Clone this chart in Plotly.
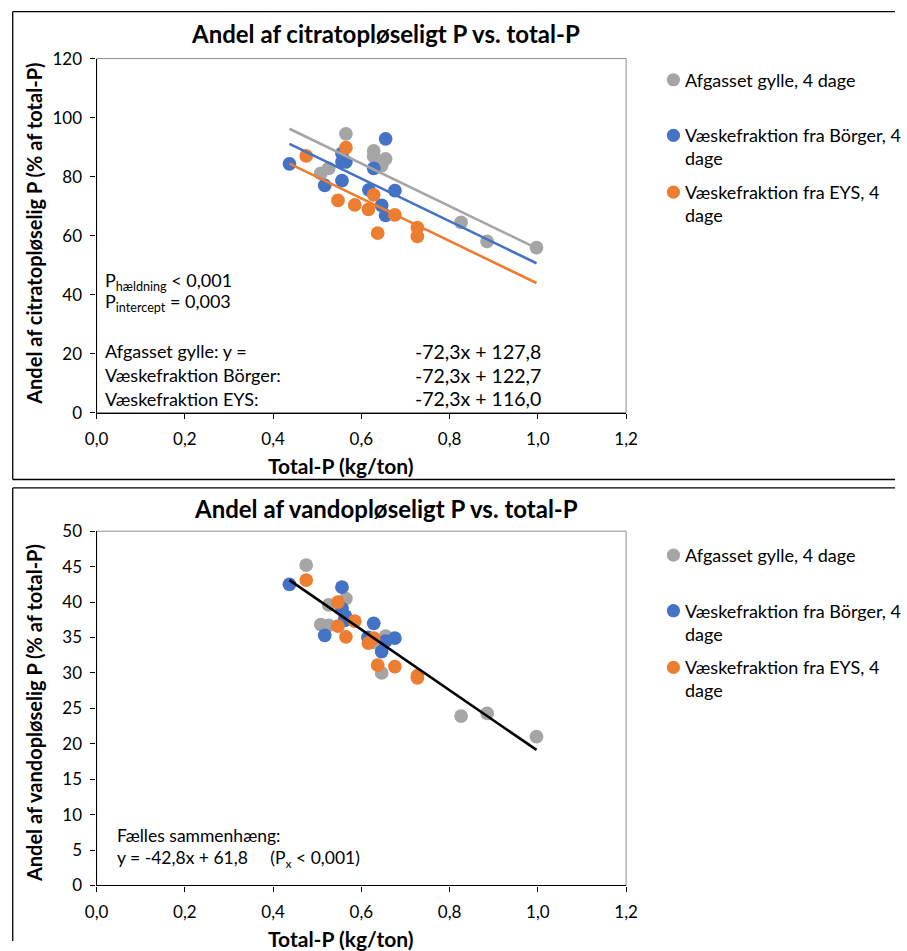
import plotly.graph_objects as go

# Figure size; the page adds an 8 px body margin and the view is fitted back to 907 x 951,
# so layout positions below are given in final view pixels and converted with SX/SY.
W, H, OFF = 907, 951, 8
SX, SY = W / (W + 2 * OFF), H / (H + 2 * OFF)
FONT = "Lato"

# ---- series: citrate-soluble P (top chart) ----
cit_gylle_x = [0.508, 0.526, 0.565, 0.628, 0.628, 0.646, 0.655, 0.826, 0.885, 0.997]
cit_gylle_y = [81.1, 82.8, 94.5, 88.7, 86.8, 83.7, 86.0, 64.5, 58.0, 55.9]
cit_borger_x = [0.437, 0.517, 0.556, 0.556, 0.565, 0.556, 0.617, 0.628, 0.646, 0.655, 0.655, 0.676]
cit_borger_y = [84.3, 77.0, 87.9, 85.0, 85.0, 78.6, 75.5, 82.8, 70.2, 66.8, 92.8, 75.2]
cit_eys_x = [0.475, 0.547, 0.565, 0.585, 0.616, 0.628, 0.637, 0.676, 0.727, 0.727]
cit_eys_y = [87.0, 71.9, 89.8, 70.4, 68.9, 73.8, 60.8, 67.0, 62.7, 59.7]
cit_slope = -72.3
cit_intercepts = [127.8, 122.7, 116.0]

# ---- series: water-soluble P (bottom chart) ----
van_gylle_x = [0.475, 0.508, 0.526, 0.526, 0.565, 0.628, 0.646, 0.655, 0.826, 0.885, 0.997]
van_gylle_y = [45.2, 36.8, 39.6, 36.7, 40.5, 34.3, 30.0, 35.2, 23.9, 24.3, 21.0]
van_borger_x = [0.437, 0.517, 0.556, 0.556, 0.564, 0.562, 0.615, 0.628, 0.646, 0.655, 0.676]
van_borger_y = [42.5, 35.3, 42.1, 39.1, 38.0, 37.4, 35.0, 37.0, 33.0, 34.5, 34.9]
van_eys_x = [0.475, 0.547, 0.547, 0.565, 0.585, 0.616, 0.628, 0.637, 0.676, 0.727, 0.727]
van_eys_y = [43.1, 40.0, 36.6, 35.1, 37.3, 34.2, 34.9, 31.1, 30.9, 29.6, 29.3]
van_slope = -42.8
van_intercept = 61.8

series_names = ["Afgasset gylle, 4 dage", "Væskefraktion fra Börger, 4 dage", "Væskefraktion fra EYS, 4 dage"]
legend_lines = [["Afgasset gylle, 4 dage"], ["Væskefraktion fra Börger, 4", "dage"], ["Væskefraktion fra EYS, 4", "dage"]]
colors = ["#A5A5A5", "#4472C4", "#ED7D31"]

x_ticks = [0.0, 0.2, 0.4, 0.6, 0.8, 1.0, 1.2]
cit_y_ticks = [0, 20, 40, 60, 80, 100, 120]
van_y_ticks = [0, 5, 10, 15, 20, 25, 30, 35, 40, 45, 50]


def px(x):
    """view x pixel -> paper fraction"""
    return (x / SX - OFF) / W


def py(y):
    """view y pixel -> paper fraction"""
    return 1 - (y / SY - OFF) / H


def sz(v):
    """view size -> figure size"""
    return v / SX


fig = go.Figure()

# citrate chart: points then shared-slope trend lines
cit_sets = [(cit_gylle_x, cit_gylle_y), (cit_borger_x, cit_borger_y), (cit_eys_x, cit_eys_y)]
for (xs, ys), name, col in zip(cit_sets, series_names, colors):
    fig.add_trace(go.Scatter(x=xs, y=ys, mode="markers", name=name, showlegend=False,
                             marker=dict(size=sz(13.5), color=col), xaxis="x", yaxis="y"))
all_cit_x = cit_gylle_x + cit_borger_x + cit_eys_x
x0, x1 = min(all_cit_x), max(all_cit_x)
for b, col in zip(cit_intercepts, colors):
    fig.add_trace(go.Scatter(x=[x0, x1], y=[cit_slope * x0 + b, cit_slope * x1 + b], mode="lines",
                             showlegend=False, line=dict(color=col, width=2.6), xaxis="x", yaxis="y"))

# water chart: points then common trend line
van_sets = [(van_gylle_x, van_gylle_y), (van_borger_x, van_borger_y), (van_eys_x, van_eys_y)]
for (xs, ys), name, col in zip(van_sets, series_names, colors):
    fig.add_trace(go.Scatter(x=xs, y=ys, mode="markers", name=name, showlegend=False,
                             marker=dict(size=sz(13.5), color=col), xaxis="x2", yaxis="y2"))
all_van_x = van_gylle_x + van_borger_x + van_eys_x
x0, x1 = min(all_van_x), max(all_van_x)
fig.add_trace(go.Scatter(x=[x0, x1], y=[van_slope * x0 + van_intercept, van_slope * x1 + van_intercept],
                         mode="lines", showlegend=False, line=dict(color="black", width=2.6),
                         xaxis="x2", yaxis="y2"))

plot_l, plot_r = 93.3, 627.7
top_box = (55.7, 411.7)
bot_box = (531.0, 887.3)

axis_common = dict(showgrid=False, zeroline=False, showline=True, linecolor="black", linewidth=1.3,
                   ticks="outside", tickcolor="black", ticklen=5, tickwidth=1.2,
                   tickfont=dict(family=FONT, size=17, color="black"))

fig.update_layout(
    width=W, height=H, autosize=False,
    margin=dict(l=0, r=0, t=0, b=0),
    paper_bgcolor="white", plot_bgcolor="white",
    separators=",.",
    font=dict(family=FONT, color="black"),
    xaxis=dict(domain=[px(plot_l), px(plot_r)], range=[0, 1.2], tickvals=x_ticks, tickformat=".1f",
               anchor="y", ticklabelstandoff=6, **axis_common),
    yaxis=dict(domain=[py(top_box[1]), py(top_box[0])], range=[0, 120], tickvals=cit_y_ticks,
               anchor="x", ticklabelstandoff=5, **axis_common),
    xaxis2=dict(domain=[px(plot_l), px(plot_r)], range=[0, 1.2], tickvals=x_ticks, tickformat=".1f",
                anchor="y2", ticklabelstandoff=6, **axis_common),
    yaxis2=dict(domain=[py(bot_box[1]), py(bot_box[0])], range=[0, 50], tickvals=van_y_ticks,
                anchor="x2", ticklabelstandoff=5, **axis_common),
)

shapes = []
frame = dict(color="black", width=1.3)
left_edge = max(px(8.6), 0.0008)
# outer chart frames: open to the right edge (and the bottom edge for the lower chart)
shapes += [
    dict(type="line", xref="paper", yref="paper", x0=left_edge, x1=1, y0=py(8.5), y1=py(8.5), line=frame),
    dict(type="line", xref="paper", yref="paper", x0=left_edge, x1=1, y0=py(479), y1=py(479), line=frame),
    dict(type="line", xref="paper", yref="paper", x0=left_edge, x1=left_edge, y0=py(479), y1=py(8.5), line=frame),
    dict(type="line", xref="paper", yref="paper", x0=left_edge, x1=1, y0=py(487.5), y1=py(487.5), line=frame),
    dict(type="line", xref="paper", yref="paper", x0=left_edge, x1=left_edge, y0=0, y1=py(487.5), line=frame),
]
# plot-area frames (top/right edges)
for t, b in (top_box, bot_box):
    shapes.append(dict(type="rect", xref="paper", yref="paper", x0=px(plot_l), x1=px(plot_r), y0=py(b), y1=py(t),
                       line=dict(color="#8C8C8C", width=1), layer="below"))

# legends (one per chart)
annotations = []
legend_rows_top = [77, 133, 190]
r = sz(6.5)
for offset in (0, 478):
    for lines, col, yrow in zip(legend_lines, colors, legend_rows_top):
        yc = yrow + offset
        shapes.append(dict(type="circle", xref="paper", yref="paper", xsizemode="pixel", ysizemode="pixel",
                           xanchor=px(675.5), yanchor=py(yc), x0=-r, x1=r, y0=-r, y1=r,
                           fillcolor=col, line=dict(width=0)))
        for i, txt in enumerate(lines):
            annotations.append(dict(xref="paper", yref="paper", x=px(685), y=py(yc + 23 * i), text=txt,
                                    showarrow=False, xanchor="left", yanchor="middle",
                                    font=dict(family=FONT, size=18, color="black")))

fig.update_layout(shapes=shapes)


def note(x, y, text, size=18.5, bold=False, xanchor="left", angle=0):
    t = f"<b>{text}</b>" if bold else text
    annotations.append(dict(xref="paper", yref="paper", x=px(x), y=py(y), text=t, showarrow=False,
                            xanchor=xanchor, yanchor="middle", textangle=angle,
                            font=dict(family=FONT, size=size, color="black")))


# titles
note(385, 30, "Andel af citratopløseligt P vs. total-P", size=24, bold=True, xanchor="center")
note(385, 508, "Andel af vandopløseligt P vs. total-P", size=24, bold=True, xanchor="center")
# axis titles
note(340, 465, "Total-P (kg/ton)", size=21, bold=True, xanchor="center")
note(340, 941, "Total-P (kg/ton)", size=21, bold=True, xanchor="center")
note(30, 232, "Andel af citratopløselig P (% af total-P)", size=20, bold=True, xanchor="center", angle=-90)
note(30, 714, "Andel af vandopløselig P (% af total-P)", size=20, bold=True, xanchor="center", angle=-90)

# statistics text, citrate chart
note(100, 280, "P<sub>hældning</sub> < 0,001", size=18)
note(100, 301, "P<sub>intercept</sub> = 0,003", size=18)
eq_labels = ["Afgasset gylle: y =", "Væskefraktion Börger:", "Væskefraktion EYS:"]
for i, (lab, b) in enumerate(zip(eq_labels, cit_intercepts)):
    yy = 350 + 24 * i
    note(100, yy, lab, size=18)
    eq = f"{cit_slope:.1f}x + {b:.1f}".replace(".", ",")
    note(413, yy, eq, size=19.5)

# statistics text, water chart
note(112, 837, "Fælles sammenhæng:", size=17.5)
eq = f"y = {van_slope:.1f}x + {van_intercept:.1f}".replace(".", ",")
note(112, 861, eq + "&nbsp;&nbsp;&nbsp;&nbsp;&nbsp;(P<sub>x</sub> < 0,001)", size=17.5)

fig.update_layout(annotations=annotations)

fig.write_html("out.html", config={"responsive": False})
